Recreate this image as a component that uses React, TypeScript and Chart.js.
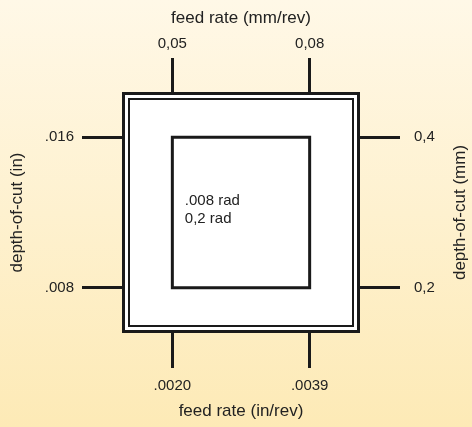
import React, { useEffect, useRef } from "react";
import { Chart, registerables } from "chart.js";

Chart.register(...registerables);

// Data
const feedMm = [0.05, 0.08];
const feedMmLabels = ["0,05", "0,08"];
const feedInLabels = [".0020", ".0039"];
const depthMm = [0.2, 0.4];
const depthMmLabels = ["0,2", "0,4"];
const depthInLabels = [".008", ".016"];
const innerNotes = [".008 rad", "0,2 rad"];
const titleTop = "feed rate (mm/rev)";
const titleBottom = "feed rate (in/rev)";
const titleLeft = "depth-of-cut (in)";
const titleRight = "depth-of-cut (mm)";

const xRange = { min: 0.039, max: 0.091 };
const yRange = { min: 0.14, max: 0.46 };

const FONT = "'Liberation Sans', Arial, Helvetica, sans-serif";
const INK = "#1a1a1a";
const TEXT = "#222222";

export default function App() {
  const ref = useRef<HTMLCanvasElement | null>(null);

  useEffect(() => {
    if (!ref.current) return;
    const square = [
      { x: feedMm[0], y: depthMm[0] },
      { x: feedMm[0], y: depthMm[1] },
      { x: feedMm[1], y: depthMm[1] },
      { x: feedMm[1], y: depthMm[0] },
      { x: feedMm[0], y: depthMm[0] },
    ];

    const framePlugin = {
      id: "frame",
      beforeDatasetsDraw(chart: any) {
        const { ctx, chartArea: a } = chart;
        ctx.save();
        ctx.fillStyle = "#ffffff";
        ctx.fillRect(a.left, a.top, a.right - a.left, a.bottom - a.top);
        ctx.restore();
      },
      afterDraw(chart: any) {
        const { ctx, chartArea: a } = chart;
        const w = a.right - a.left;
        const h = a.bottom - a.top;
        ctx.save();
        ctx.strokeStyle = INK;
        ctx.lineJoin = "miter";
        ctx.lineWidth = 3;
        ctx.strokeRect(a.left + 1.5, a.top + 1.5, w - 3, h - 3);
        ctx.lineWidth = 2;
        ctx.strokeRect(a.left + 7, a.top + 7, w - 14, h - 14);

        // inner notes
        const xs = chart.scales.x;
        const ys = chart.scales.y;
        const left = xs.getPixelForValue(feedMm[0]);
        const midY = (ys.getPixelForValue(depthMm[0]) + ys.getPixelForValue(depthMm[1])) / 2;
        ctx.fillStyle = TEXT;
        ctx.font = `15px ${FONT}`;
        ctx.textAlign = "left";
        ctx.textBaseline = "middle";
        ctx.fillText(innerNotes[0], left + 12.5, midY - 12);
        ctx.fillText(innerNotes[1], left + 12.5, midY + 6.5);

        // right title, reading bottom-to-top
        const ry = chart.scales.y2;
        ctx.font = `17px ${FONT}`;
        ctx.textAlign = "center";
        ctx.translate(ry.right - 12, (a.top + a.bottom) / 2);
        ctx.rotate(-Math.PI / 2);
        ctx.fillText(titleRight, 0, 0);
        ctx.restore();
      },
    };

    const tickFont = { family: FONT, size: 15 };
    const titleFont = { family: FONT, size: 17 };

    const grid = (len: number) => ({
      display: true,
      drawOnChartArea: false,
      drawTicks: true,
      tickLength: len,
      tickWidth: 3,
      lineWidth: 3,
      tickColor: INK,
      color: INK,
    });

    const chart = new Chart(ref.current, {
      type: "scatter",
      data: {
        datasets: [
          {
            data: square,
            showLine: true,
            fill: false,
            borderColor: INK,
            borderWidth: 3,
            borderJoinStyle: "miter",
            borderCapStyle: "square",
            pointRadius: 0,
            xAxisID: "x",
            yAxisID: "y",
          } as any,
        ],
      },
      options: {
        animation: false,
        responsive: false,
        layout: { padding: 0 },
        plugins: { legend: { display: false }, tooltip: { enabled: false } },
        scales: {
          x: {
            type: "linear",
            position: "bottom",
            min: xRange.min,
            max: xRange.max,
            afterBuildTicks: (s: any) => { s.ticks = feedMm.map((v) => ({ value: v })); },
            afterFit: (s: any) => { s.height = 94; },
            ticks: {
              autoSkip: false,
              maxRotation: 0,
              padding: 9,
              color: TEXT,
              font: tickFont,
              callback: (_v: any, i: number) => feedInLabels[i],
            },
            grid: grid(35),
            border: { display: false },
            title: { display: true, text: titleBottom, color: TEXT, font: titleFont, padding: { top: 0, bottom: 5 } },
          },
          x2: {
            type: "linear",
            position: "top",
            min: xRange.min,
            max: xRange.max,
            afterBuildTicks: (s: any) => { s.ticks = feedMm.map((v) => ({ value: v })); },
            afterFit: (s: any) => { s.height = 92; },
            ticks: {
              autoSkip: false,
              maxRotation: 0,
              padding: 5.5,
              color: TEXT,
              font: tickFont,
              callback: (_v: any, i: number) => feedMmLabels[i],
            },
            grid: grid(34),
            border: { display: false },
            title: { display: true, text: titleTop, color: TEXT, font: titleFont, padding: { top: 8, bottom: 0 } },
          },
          y: {
            type: "linear",
            position: "left",
            min: yRange.min,
            max: yRange.max,
            afterBuildTicks: (s: any) => { s.ticks = depthMm.map((v) => ({ value: v })); },
            afterFit: (s: any) => { s.width = 122; },
            ticks: {
              autoSkip: false,
              padding: 8,
              color: TEXT,
              font: tickFont,
              callback: (_v: any, i: number) => depthInLabels[i],
            },
            grid: grid(40),
            border: { display: false },
            title: { display: true, text: titleLeft, color: TEXT, font: titleFont, padding: { top: 7, bottom: 0 } },
          },
          y2: {
            type: "linear",
            position: "right",
            min: yRange.min,
            max: yRange.max,
            afterBuildTicks: (s: any) => { s.ticks = depthMm.map((v) => ({ value: v })); },
            afterFit: (s: any) => { s.width = 112; },
            ticks: {
              autoSkip: false,
              padding: 14,
              color: TEXT,
              font: tickFont,
              callback: (_v: any, i: number) => depthMmLabels[i],
            },
            grid: grid(40),
            border: { display: false },
            title: { display: false, text: titleRight },
          },
        },
      } as any,
      plugins: [framePlugin],
    });

    return () => chart.destroy();
  }, []);

  return (
    <div
      style={{
        position: "fixed",
        left: 0,
        top: 0,
        width: 472,
        height: 427,
        background: "linear-gradient(to bottom, #fff8e7 0%, #fef1cf 50%, #fdeab6 100%)",
      }}
    >
      <canvas ref={ref} width={472} height={427} style={{ display: "block" }} />
    </div>
  );
}
